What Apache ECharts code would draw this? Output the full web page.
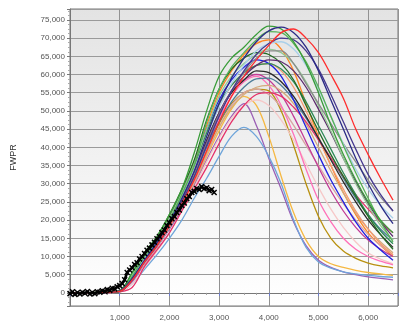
<!DOCTYPE html>
<html><head><meta charset="utf-8">
<script src="https://cdn.jsdelivr.net/npm/echarts@6/dist/echarts.min.js"></script>
<style>html,body{margin:0;padding:0;background:#fff}#c{width:405px;height:327px}</style>
</head><body><div id="c"></div>
<script>
// x positions (days) shared by all simulated curves
const simX = [0,750,1000,1250,1500,1750,2000,2250,2500,2750,3000,3250,3500,3750,4000,4250,4500,4750,5000,5250,5500,5750,6000,6250,6500];

const green1    = [0,200,500,5500,11000,15500,21500,28500,38500,50000,59500,64500,67500,71000,73300,72500,69000,63000,55000,46000,38000,31000,25000,20000,16500];
const green2    = [0,150,400,4500,10000,14500,20000,27000,35000,47000,56000,62000,66000,69500,71800,71500,68500,63500,56500,48500,40500,33000,26000,19500,14000];
const navy      = [0,150,500,4000,9000,14000,19500,26000,33500,43000,52000,59000,64500,69000,72000,73000,71500,67500,61000,53000,45000,37000,30000,24000,19000];
const red       = [0,150,400,3500,8500,13000,18500,24500,31000,39000,47000,54000,59500,64000,68000,71500,72500,70000,66000,60000,53500,45000,38000,31500,25500];
const lightBlue = [0,150,400,4500,9500,14500,20000,26500,34000,43000,51000,57500,62500,66500,68500,69000,67000,62500,56000,48500,41000,34000,28500,24000,20500];
const gray      = [0,150,400,3500,8500,13000,18500,25000,32500,41000,49000,55500,60500,64500,66500,66500,63000,57500,52000,46500,41000,36000,31000,26300,22500];
const orange    = [0,200,500,5000,10500,15000,21000,28000,36000,46000,55000,61000,65500,68500,69500,67000,61000,52000,43000,35000,27500,21500,16500,13000,10000];
const darkGreen = [0,200,600,5500,11000,15500,21500,28500,36500,47500,56000,61500,64500,66000,65500,63000,58500,51500,44500,38000,32000,26500,21000,16000,12000];
const blackSim  = [0,150,500,4500,9500,14000,19500,26000,33500,42000,49500,55000,58500,61000,60500,58000,54000,48500,42500,36500,30500,25000,20000,16000,12500];
const blue      = [0,150,500,4500,10000,14500,20500,27500,35500,45000,53000,58500,62000,64000,63000,59500,53000,45500,38000,31000,25000,19500,15000,11800,9000];
const slate     = [0,150,400,4000,9000,13500,19000,25000,32000,40000,47000,52500,56500,58800,59000,57000,53000,48000,42500,37000,31500,26000,21500,17500,14500];
const rosy      = [0,150,400,3500,8000,12500,18000,24000,30500,38000,45500,51500,55000,56000,54500,51000,46000,40500,35000,29500,24500,20000,16000,13000,10500];
const crimson   = [0,100,300,1500,7300,11800,16500,22500,28500,34500,41000,47000,51500,54500,55000,54000,51000,47000,42000,37000,32000,27000,23000,19500,16500];
const purple    = [0,150,400,3000,8000,12500,17500,23000,29500,36500,43000,48500,52000,46000,37000,28500,19500,13000,9000,7000,5800,5000,4400,4000,3600];
const yellow    = [0,150,400,3500,8500,13000,18000,23500,30000,37500,44500,50500,54000,51500,43000,32000,22000,14500,10000,8000,7000,6200,5600,5200,4800];
const skyBlue   = [0,100,300,2500,6500,10500,15000,20000,26000,31500,37500,43000,45500,43000,37500,30000,20000,12500,8500,6800,5800,5200,4800,4500,4300];
const darkGold  = [0,150,400,3500,8500,13000,18500,24500,31500,39000,46500,52000,55000,56000,55500,50000,40500,30000,21000,15000,11500,9500,8200,7400,6900];
const hotPink   = [0,150,400,4000,9000,13500,19000,25000,32000,40000,48000,54000,58000,59500,57000,51500,43500,34000,25500,19500,15000,12000,10000,8700,7700];
const magenta   = [0,150,400,3500,8500,13000,18500,25000,32500,41000,49000,55000,58500,60000,58500,54500,48500,41500,34500,28000,22500,18000,14500,12000,10000];
const lightPink = [0,100,300,2500,7000,11500,16500,22500,29000,36000,42500,48000,51500,53000,51500,47500,42000,35500,29000,23000,18000,14000,11000,9300,8000];
const seaGreen  = [0,200,500,5000,10500,15000,20500,27500,35000,44000,52000,57000,60500,62500,63000,61500,58000,52500,46000,39500,33000,27000,21500,17000,13500];
const plum      = [0,150,400,4000,9000,13500,19000,25500,33000,41500,49500,55500,59500,62500,64000,63500,61000,56500,50500,44000,37000,30500,24500,19500,15500];
const tan       = [0,150,400,3500,8500,13000,18000,24000,31000,38500,45500,51000,54500,56500,57000,55500,52000,46500,40000,33500,27500,22000,17500,14000,11000];
const salmon    = [0,200,500,4500,10000,14500,20000,27000,34500,43500,51500,57000,60500,62500,63000,61000,56500,50000,42500,35000,28500,22500,17500,13500,10500];
const lightGreen= [0,200,500,5000,10500,15000,20500,27500,35500,45000,54000,59500,63000,65500,67000,66000,63000,58000,51500,44500,37000,30000,24000,18500,14500];
const indigo    = [0,150,400,3500,8500,13000,18500,25000,32000,40500,48500,55500,61000,65500,68500,70000,69500,66500,61500,54500,47000,39500,32500,27000,22500];

// observed history (black), x every 50 days from 0 to 2900
const obsX = [0,50,100,150,200,250,300,350,400,450,500,550,600,650,700,750,800,850,900,950,1000,1050,1100,1150,1200,1250,1300,1350,1400,1450,1500,1550,1600,1650,1700,1750,1800,1850,1900,1950,2000,2050,2100,2150,2200,2250,2300,2350,2400,2450,2500,2550,2600,2650,2700,2750,2800,2850,2900];
const obsY = [-200,300,-400,100,-300,200,-100,400,-300,100,-200,300,200,600,400,900,700,1300,1100,1700,2000,2600,3600,5600,6300,6900,7800,8300,9300,10000,10800,11700,12300,13200,13900,14900,15500,16600,17300,18500,19300,20400,21000,22100,22800,24000,24700,25900,26500,27600,27900,28700,28400,29200,28600,28900,28100,28400,27600];

const curves = [
  ['Orange',orange,'#ff8522'],['Gold',darkGold,'#b8900f'],['Yellow',yellow,'#f5b842'],['Purple',purple,'#9b5fb5'],
  ['SkyBlue',skyBlue,'#6fa5da'],['LightPink',lightPink,'#f6c8c8'],['Rosy',rosy,'#d9a3a3'],['HotPink',hotPink,'#ff70b8'],
  ['Magenta',magenta,'#c23a96'],['Tan',tan,'#d4aa7c'],['Salmon',salmon,'#f59a70'],['Slate',slate,'#4d7c98'],
  ['Crimson',crimson,'#e5326a'],['Blue',blue,'#2020e0'],['BlackSim',blackSim,'#2a2a2a'],['SeaGreen',seaGreen,'#2e8b57'],
  ['DarkGreen',darkGreen,'#236b23'],['Plum',plum,'#5e2d6e'],['LightGreen',lightGreen,'#93c993'],['Gray',gray,'#8a8a8a'],
  ['LightBlue',lightBlue,'#a9d0ea'],['Indigo',indigo,'#45388e'],['Green2',green2,'#57b157'],['Green1',green1,'#3a9d3a'],
  ['Navy',navy,'#2b2b86'],['Red',red,'#ff2d2d']
];

const fmt = v => String(v).replace(/\B(?=(\d{3})+(?!\d))/g, ',');

const series = curves.map(([name, ys, color]) => ({
  name, type:'line', smooth:0.35, showSymbol:false,
  data: simX.map((x,i)=>[x, ys[i]]),
  lineStyle:{width:1.3, color}, itemStyle:{color}
}));
series.push({
  name:'Observed', type:'line', z:10,
  data: obsX.map((x,i)=>[x, obsY[i]]),
  symbol:'path://M0,0L10,10M10,0L0,10', symbolSize:5, showAllSymbol:true,
  lineStyle:{width:2.6, color:'#000'}, itemStyle:{color:'#000', borderColor:'#000', borderWidth:1.5}
});

const chart = echarts.init(document.getElementById('c'), null, {renderer:'canvas'});
chart.setOption({
  animation:false,
  backgroundColor:'#fff',
  grid:{left:70, right:7, top:9, bottom:21, show:true, borderColor:'#777', borderWidth:1,
    backgroundColor:new echarts.graphic.LinearGradient(0,0,0,1,[{offset:0,color:'#e3e3e3'},{offset:1,color:'#ffffff'}])},
  xAxis:{type:'value', min:0, max:6600, interval:1000,
    axisLine:{show:true, lineStyle:{color:'#777'}},
    axisTick:{show:true, length:3, lineStyle:{color:'#6b7bd0'}},
    minorTick:{show:true, splitNumber:4, length:2, lineStyle:{color:'#999'}},
    axisLabel:{fontSize:8, color:'#555', fontFamily:'Liberation Sans', margin:8,
      showMaxLabel:false, formatter:v => (v===0 || v>6000) ? '' : fmt(v)},
    splitLine:{show:true, lineStyle:{color:'#929292', width:1}}
  },
  yAxis:{type:'value', min:-3600, max:78000, splitNumber:16,
    name:'FWPR', nameLocation:'middle', nameGap:52, nameRotate:90,
    nameTextStyle:{fontSize:9, color:'#333', fontFamily:'Liberation Sans'},
    axisLine:{show:true, lineStyle:{color:'#777'}},
    axisTick:{show:true, length:3, lineStyle:{color:'#777'}},
    minorTick:{show:true, splitNumber:4, length:2, lineStyle:{color:'#aaa'}},
    axisLabel:{fontSize:8, color:'#555', fontFamily:'Liberation Sans', margin:5,
      showMinLabel:false, showMaxLabel:false, formatter:v => (v % 5000 === 0) ? fmt(v) : ''},
    splitLine:{show:true, lineStyle:{color:'#9a9a9a', width:1}}
  },
  series
});
</script></body></html>
